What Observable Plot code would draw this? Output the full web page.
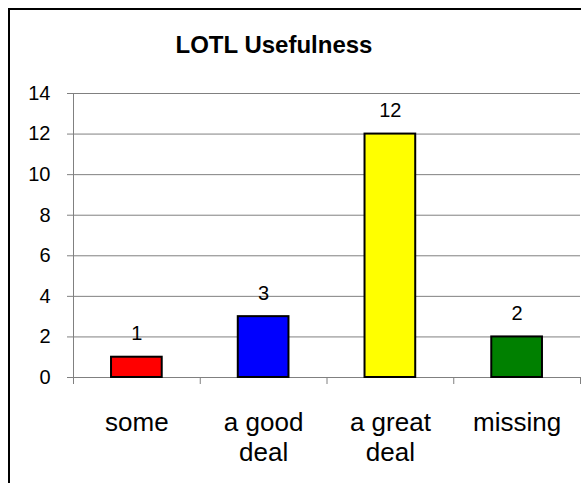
<!DOCTYPE html>
<html>
<head>
<meta charset="utf-8">
<script src="https://cdn.jsdelivr.net/npm/d3@7"></script>
<script src="https://cdn.jsdelivr.net/npm/@observablehq/plot@0.6"></script>
<style>
  html, body { margin: 0; padding: 0; background: #fff; }
  #wrap { position: relative; width: 581px; height: 483px; overflow: hidden; background: #fff; font-family: "Liberation Sans", Arial, sans-serif; }
  #frame { position: absolute; left: 8px; top: 8px; width: 700px; height: 700px; border: 2px solid #000; box-sizing: border-box; }
  #title { position: absolute; left: 0; width: 548px; top: 33px; text-align: center; font-size: 24px; line-height: 24px; font-weight: bold; color: #000; }
  #chart { position: absolute; left: 0; top: 0; }
</style>
</head>
<body>
<div id="wrap">
  <div id="frame"></div>
  <div id="chart"></div>
  <div id="title">LOTL Usefulness</div>
</div>
<script>
const categories = ["some", "a good deal", "a great deal", "missing"];
const values = [1, 3, 12, 2];
const colors = ["#ff0000", "#0000ff", "#ffff00", "#008000"];
const yTicks = [0, 2, 4, 6, 8, 10, 12, 14];
const boundaries = [0, 1, 2, 3, 4];

const rows = categories.map((c, i) => ({i, category: c, value: values[i], color: colors[i]}));

const chart = Plot.plot({
  width: 581,
  height: 483,
  marginTop: 93,
  marginBottom: 106,
  marginLeft: 73,
  marginRight: 1,
  style: {fontFamily: "'Liberation Sans', Arial, sans-serif", background: "transparent", color: "#000"},
  x: {domain: [0, 4], axis: null},
  y: {domain: [0, 14], axis: null},
  color: {type: "identity"},
  marks: [
    Plot.gridY(yTicks, {stroke: "#808080", strokeOpacity: 1}),
    Plot.axisY(yTicks, {label: null, tickSize: 6, tickPadding: 17, fontSize: 20, stroke: "#808080", fill: "#000", tickFormat: d => String(d)}),
    Plot.axisX(boundaries, {label: null, tickSize: 7, stroke: "#808080", tickFormat: () => ""}),
    Plot.ruleX([0], {stroke: "#808080"}),
    Plot.ruleY([0], {stroke: "#808080"}),
    Plot.rectY(rows, {x1: d => d.i + 0.3, x2: d => d.i + 0.7, y: "value", fill: "color", stroke: "#000", strokeWidth: 2}),
    Plot.text(rows, {x: d => d.i + 0.5, y: "value", text: d => String(d.value), dy: -17, lineAnchor: "bottom", fontSize: 20, fill: "#000"}),
    Plot.text(rows, {x: d => d.i + 0.5, text: "category", frameAnchor: "bottom", lineAnchor: "top", dy: 32, fontSize: 26, lineWidth: 3.6, lineHeight: 1.15, fill: "#000"})
  ]
});
document.getElementById("chart").appendChild(chart);
</script>
</body>
</html>
